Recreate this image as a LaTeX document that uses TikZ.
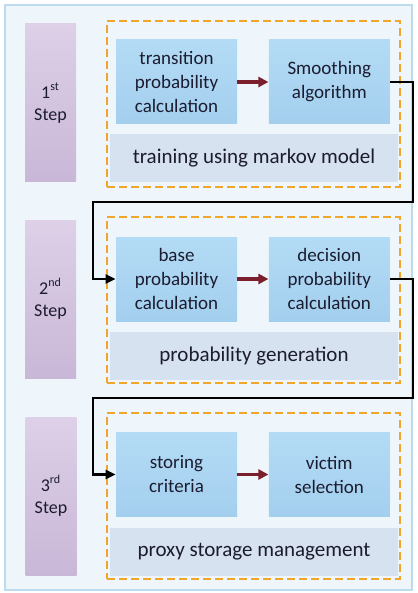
\documentclass[tikz,border=0pt]{standalone}
\usepackage{fontspec}
\setmainfont{Carlito}
\usetikzlibrary{positioning,arrows.meta}
\definecolor{ink}{HTML}{1C1C30}
\definecolor{stepTop}{HTML}{DDD0E7}
\definecolor{stepMid}{HTML}{B9A3C9}
\definecolor{stepBot}{HTML}{C9B7D7}
\definecolor{taskTop}{HTML}{B3DBF5}
\definecolor{taskMid}{HTML}{84BFE6}
\definecolor{taskBot}{HTML}{A3CFEE}
\definecolor{barBlue}{HTML}{D6E2EF}
\definecolor{dashOrange}{HTML}{F0A52C}
\definecolor{paleBg}{HTML}{EEF6FB}
\definecolor{paleEdge}{HTML}{BCDCEE}
\definecolor{maroon}{HTML}{7A1F2B}

\begin{document}
\begin{tikzpicture}[x=0.5pt,y=-0.5pt,
    stepbox/.style={minimum width=25.5pt,minimum height=79pt,inner sep=0pt,
        top color=stepTop,middle color=stepMid,bottom color=stepBot,
        align=center,text=ink,font=\fontsize{9}{11}\selectfont},
    task/.style={minimum width=60.5pt,minimum height=42pt,inner sep=1pt,
        top color=taskTop,middle color=taskMid,bottom color=taskBot,
        align=center,text=ink,font=\fontsize{9.5}{12}\selectfont},
    stage/.style={draw=dashOrange,dash pattern=on 4pt off 2pt,line width=0.9pt,
        minimum width=146.5pt,minimum height=83pt,inner sep=0pt},
    phase/.style={fill=barBlue,minimum width=144pt,minimum height=24pt,
        text=ink,font=\fontsize{10.5}{12}\selectfont},
    next/.style={-{Triangle[length=5pt,width=5pt]},line width=1.6pt,maroon},
    flow/.style={-{Triangle[length=5pt,width=4.5pt]},line width=1.1pt,black}]
    \useasboundingbox (0,0) rectangle (417,593);
    \draw[paleEdge,fill=paleBg,line width=1.2pt] (5,5) rectangle (412,590);

    \node[stage] (stageA) at (253.5,104) {};
    \node[stage] (stageB) at (253.5,300) {};
    \node[stage] (stageC) at (253.5,496) {};

    \node[phase] (markov) at (254,158) {training using markov model};
    \node[phase] (probgen) at (254,356) {probability generation};
    \node[phase] (proxy) at (254,552) {proxy storage management};

    \node[stepbox] (first) at (50.5,103) {1\textsuperscript{st}\\Step};
    \node[stepbox] (second) at (50.5,299) {2\textsuperscript{nd}\\Step};
    \node[stepbox] (third) at (51,496) {3\textsuperscript{rd}\\Step};

    \node[task] (trans) at (176.5,82) {transition\\probability\\calculation};
    \node[task,right=15.5pt of trans] (smooth) {Smoothing\\algorithm};
    \node[task] (base) at (176.5,279) {base\\probability\\calculation};
    \node[task,right=15.5pt of base] (decide) {decision\\probability\\calculation};
    \node[task] (store) at (176.5,474.5) {storing\\criteria};
    \node[task,right=15.5pt of store] (victim) {victim\\selection};

    \draw[next] (trans) -- (smooth);
    \draw[next] (base) -- (decide);
    \draw[next] (store) -- (victim);

    \coordinate (downA) at (413,202);
    \coordinate (backA) at (93,202);
    \coordinate (downB) at (413,398);
    \coordinate (backB) at (93,398);
    \draw[flow] (smooth.east) -| (downA) -- (backA) |- (base.west);
    \draw[flow] (decide.east) -| (downB) -- (backB) |- (store.west);
\end{tikzpicture}
\end{document}
